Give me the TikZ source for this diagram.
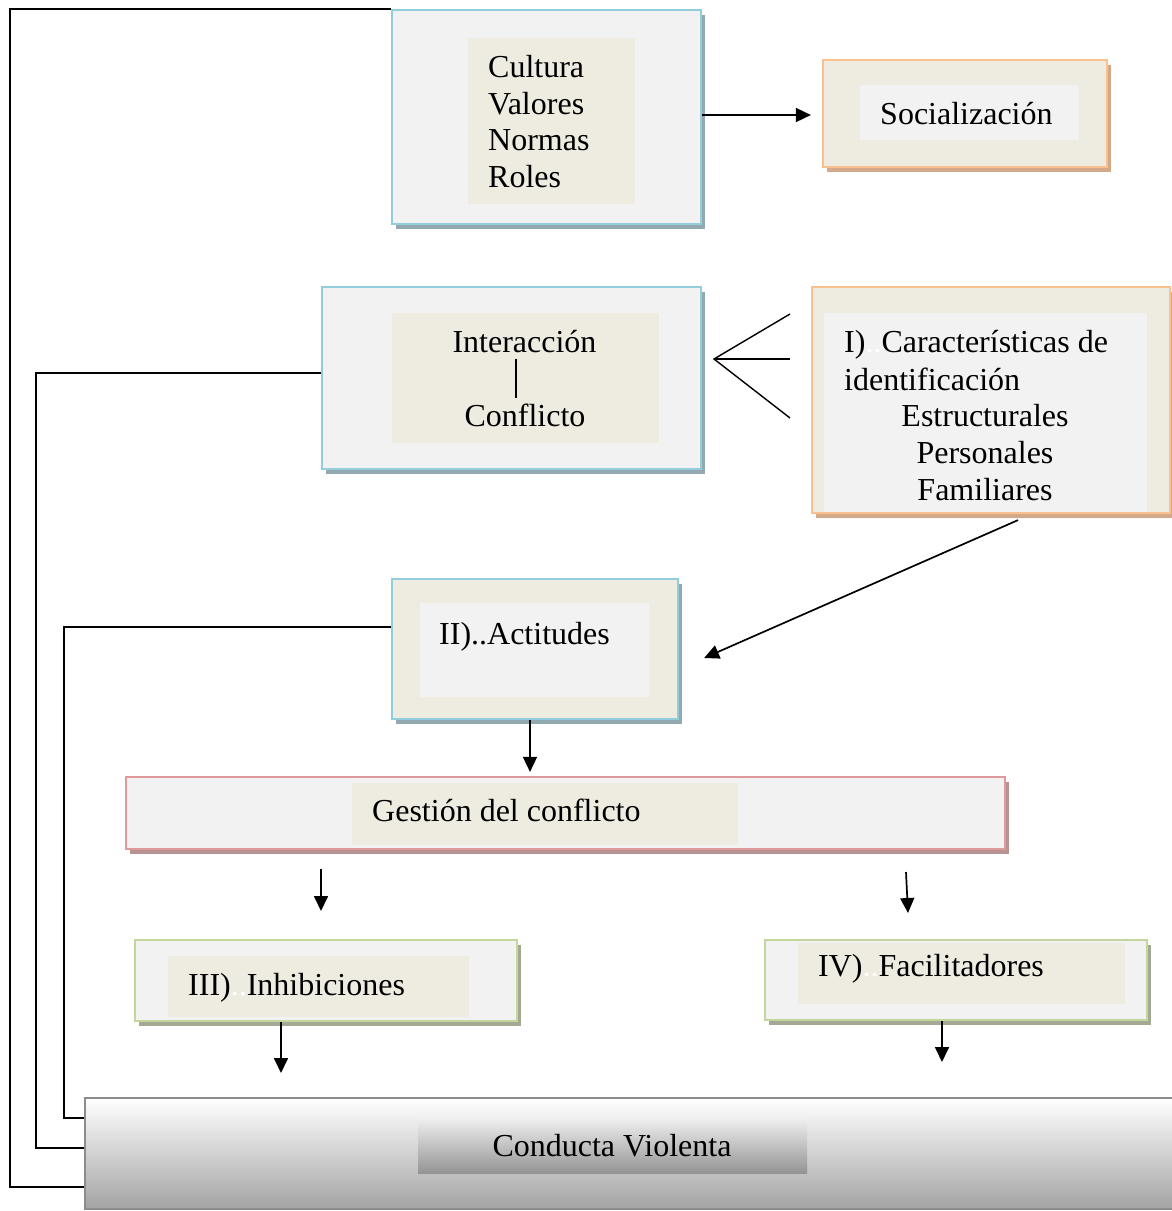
\documentclass[tikz,border=0pt]{standalone}
\usepackage{fontspec}
\setmainfont{Liberation Serif}
\usetikzlibrary{arrows.meta,shadows}
\definecolor{boxgray}{HTML}{F2F2F2}
\definecolor{beige}{HTML}{EEECE1}
\definecolor{bluebd}{HTML}{92CDDC}
\definecolor{blueshd}{HTML}{93A9B1}
\definecolor{orangebd}{HTML}{FAC08F}
\definecolor{orangeshd}{HTML}{D4A98A}
\definecolor{pinkbd}{HTML}{DE9A9B}
\definecolor{pinkshd}{HTML}{B69292}
\definecolor{greenbd}{HTML}{C3D69B}
\definecolor{greenshd}{HTML}{A4A994}
\definecolor{cvbd}{HTML}{8C8C8C}
\begin{document}
\begin{tikzpicture}[x=1pt,y=-1pt,
  font=\fontsize{32}{37}\selectfont,
  outerbox/.style={draw=#1bd, line width=2.2pt, inner sep=0pt,
    drop shadow={shadow xshift=4pt,shadow yshift=-5pt,fill=#1shd,opacity=1}},
  innerbox/.style={draw=none, inner sep=0pt},
  txt/.style={inner sep=0pt, anchor=base west},
  ctxt/.style={inner sep=0pt, anchor=base},
  conn/.style={line width=1.7pt, black},
  arr/.style={conn, -{Triangle[length=15pt,width=14pt]}},
  fanline/.style={line width=1.4pt, black}]
\useasboundingbox (0,0) rectangle (1172,1211);
\fill[white] (0,0) rectangle (1172,1211);

% Cultura box
\node[outerbox=blue, fill=boxgray, minimum width=309pt, minimum height=214pt] (cul) at (546.5,117) {};
\node[innerbox, fill=beige, minimum width=167pt, minimum height=166pt] (culi) at (551.5,121) {};
\node[txt] (cul1) at (488,77) {Cultura};
\node[txt] (cul2) at (488,114) {Valores};
\node[txt] (cul3) at (488,150) {Normas};
\node[txt] (cul4) at (488,187) {Roles};

% Socializacion
\node[outerbox=orange, fill=beige, minimum width=284pt, minimum height=107pt] (soc) at (965,113.5) {};
\node[innerbox, fill=boxgray, minimum width=219pt, minimum height=55pt] (soci) at (969.5,112.5) {};
\node[txt] (soct) at (880,124) {Socialización};

% Interaccion
\node[outerbox=blue, fill=boxgray, minimum width=379pt, minimum height=182pt] (int) at (511.5,378) {};
\node[innerbox, fill=beige, minimum width=267pt, minimum height=130pt] (inti) at (525.5,378) {};
\node[ctxt] (int1) at (524.5,352.7) {Interacción};
\node[ctxt] (int2) at (525,426.7) {Conflicto};
\draw[line width=1.4pt] ([xshift=-9.5pt]inti.center) ++(0,-19.5) -- ++(0,39);

% Caracteristicas
\node[outerbox=orange, fill=beige, minimum width=358pt, minimum height=226pt] (car) at (991,400) {};
\node[innerbox, fill=boxgray, minimum width=323pt, minimum height=199pt] (cari) at (985.5,412.5) {};
\node[txt] (car1) at (844,352.7) {I)\textcolor{white}{..}Características de};
\node[txt] (car2) at (844,390) {identificación};
\node[ctxt] (car3) at (985,426.7) {Estructurales};
\node[ctxt] (car4) at (985,463.4) {Personales};
\node[ctxt] (car5) at (985,500) {Familiares};

% fan
\coordinate (fan) at (714,359);
\coordinate (fan1) at (790,314);
\coordinate (fan2) at (790,359);
\coordinate (fan3) at (790,418);
\draw[fanline] (fan1) -- (fan) -- (fan3);
\draw[fanline] (fan) -- (fan2);

% Actitudes
\node[outerbox=blue, fill=beige, minimum width=286pt, minimum height=140pt] (act) at (535,649) {};
\node[innerbox, fill=boxgray, minimum width=229pt, minimum height=94pt] (acti) at (534.5,650) {};
\node[txt] (actt) at (439,644) {II)..Actitudes};

% Gestion
\node[outerbox=pink, fill=boxgray, minimum width=879pt, minimum height=72pt] (ges) at (565.5,813) {};
\node[innerbox, fill=beige, minimum width=386pt, minimum height=62pt] (gesi) at (545,814) {};
\node[txt] (gest) at (372,821.7) {Gestión del conflicto};

% Inhibiciones
\node[outerbox=green, fill=boxgray, minimum width=382pt, minimum height=81pt] (inh) at (326,980.5) {};
\node[innerbox, fill=beige, minimum width=301pt, minimum height=61pt] (inhi) at (318.5,986.5) {};
\node[txt] (inht) at (188,995) {III)\textcolor{white}{..}Inhibiciones};

% Facilitadores
\node[outerbox=green, fill=boxgray, minimum width=382pt, minimum height=80pt] (fac) at (956,980) {};
\node[innerbox, fill=beige, minimum width=327pt, minimum height=61pt] (faci) at (961.5,973.5) {};
\node[txt] (fact) at (818,976) {IV)\textcolor{white}{..}Facilitadores};

% Conducta violenta
\node[draw=cvbd, line width=1.6pt, inner sep=0pt, top color=white, bottom color=black!36,
      minimum width=1110pt, minimum height=111pt] (cv) at (640,1153.5) {};
\node[innerbox, top color=white!94!black, bottom color=black!42,
      minimum width=389pt, minimum height=55pt] (cvi) at (612.5,1145.5) {};
\node[ctxt] (cvt) at (612,1156) {Conducta Violenta};

% connectors
\draw[arr] ([yshift=2pt]cul.east) -- ([xshift=-11pt,yshift=-1.5pt]soc.west);
\draw[conn] (cul.north west) -| (10,1187) -- ([yshift=-33.5pt]cv.west);
\draw[conn] ([yshift=5pt]int.west) -| (36,1148) -- ([yshift=5.5pt]cv.west);
\draw[conn] ([yshift=22pt]act.west) -| (64,1118) -- ([yshift=35.5pt]cv.west);
\draw[arr] ([xshift=27pt,yshift=-6pt]car.south) -- ([xshift=25pt,yshift=-9pt]act.east);
\draw[arr] ([xshift=-5pt]act.south) -- ([xshift=-5pt,yshift=4pt]act.south |- ges.north);

\coordinate (g1a) at (321,869);
\coordinate (g1b) at (321,911);
\coordinate (g2a) at (906,872);
\coordinate (g2b) at (908,913);
\draw[arr] (g1a) -- (g1b);
\draw[arr] (g2a) -- (g2b);

\coordinate (inhb) at (281,1073);
\coordinate (facb) at (942,1062);
\draw[arr] (inh.south -| inhb) -- (inhb);
\draw[arr] (fac.south -| facb) -- (facb);
\end{tikzpicture}
\end{document}
